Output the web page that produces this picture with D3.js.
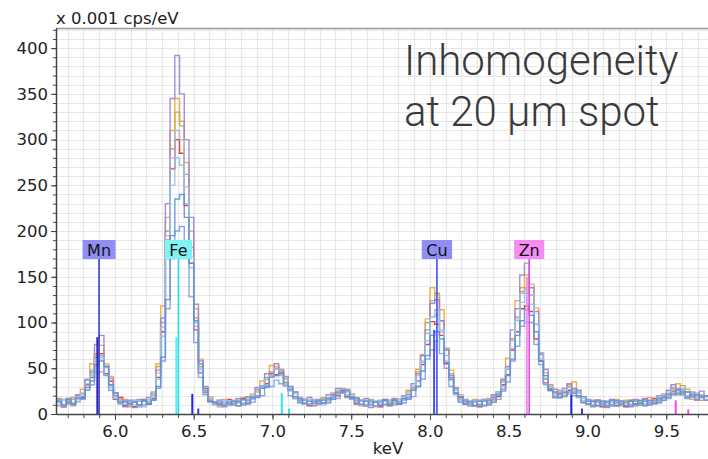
<!DOCTYPE html>
<html><head><meta charset="utf-8">
<script src="https://cdn.jsdelivr.net/npm/d3@7"></script>
<style>body{margin:0;background:#fff;} svg{display:block;}</style>
</head><body>
<svg id="chart" width="708" height="459"></svg>
<script>
// ---- data (energy channels: start keV and width keV) ----
const binStart = 5.63, binWidth = 0.03;
const seriesNames = ["red","green","orange","purple","grayblue","lightblue","cornflower","steelblue"];
const seriesColors = ["#e3262b","#93b168","#f2a531","#9d7fd8","#a7b6d5","#8fc3ea","#7b9fe2","#5d8fd9"];

const seriesPurple = [16,8,17,11,21,19,37,46,76,86, 52,39,17,16,8,15,7,16,10,18, 22,48,105,230,345,392,350,300,215,120,58,30,17,12, 15,8,14,10,17,12, 19,20,29,31,44,46,55,48,41,27, 24,13,11,18,9,16,12,21,20,28, 27,25,19,15,10,17,7,14,9,16, 11,17,12,20,21,33,44,64,92,121, 125,102,70,42,28,13,14,12,9,15, 16,10,21,24,38,52,92,115,152,165, 138,112,65,49,28,27,18,28,33,26, 26,13,16,8,15,11,7,16,9,14, 13,8,16,10,17,12,11,20,19,26, 32,26,27,17,24,15,25,19];
const seriesOrange = [9,16,11,18,13,27,31,55,66,75, 55,41,20,14,16,8,15,10,15,13, 20,55,118,215,310,345,320,275,200,115,60,27,19,11, 8,16,11,15,9,18, 13,22,24,36,38,53,52,49,35,28, 19,18,11,14,16,10,18,13,23,22, 24,27,16,18,9,15,12,8,14,16, 12,14,16,15,26,28,49,65,104,138, 130,114,71,48,26,21,13,9,16,10, 14,17,13,24,36,61,82,124,138,152, 142,116,67,45,30,23,26,20,32,35, 18,19,10,15,9,14,8,13,16,9, 15,11,9,14,10,18,14,16,22,21, 28,33,21,27,16,23,15,20];
const seriesRed = [15,8,12,16,19,18,32,40,62,66, 44,36,16,18,9,13,8,14,16,11, 17,40,90,190,268,300,285,228,165,92,45,24,14,13, 11,9,16,11,13,17, 12,18,20,30,33,44,43,44,31,27, 17,15,16,9,15,12,17,15,21,20, 26,19,18,11,15,9,14,13,8,15, 9,16,11,17,18,28,36,54,76,101, 98,86,55,38,22,18,11,13,14,8, 15,12,18,19,32,43,70,90,115,118, 112,82,58,34,27,18,23,20,26,23, 20,13,14,9,15,8,13,10,15,11, 8,15,11,12,16,10,17,13,18,20, 25,22,24,18,21,16,19,15];
const seriesGreen = [17,10,15,9,20,22,38,48,66,64, 52,31,23,13,14,12,14,8,15,14, 24,52,100,200,290,330,315,262,182,105,52,26,16,10, 15,10,13,12,15,10, 18,17,27,29,40,42,50,45,39,26, 24,14,16,11,14,14,16,16,22,23, 28,21,22,13,15,10,16,9,15,10, 15,12,16,15,25,30,46,64,100,124, 132,102,72,44,29,16,16,11,14,9, 16,13,20,22,36,50,82,106,134,138, 130,98,66,38,32,22,24,23,30,25, 24,14,15,10,14,12,13,10,12,12, 14,9,15,12,14,12,15,15,20,18, 29,23,31,19,22,20,20,19];
const seriesLightBlue = [10,15,10,16,14,23,26,42,53,60, 43,32,17,15,11,13,10,14,8,16, 18,38,85,170,250,280,272,230,160,96,48,22,15,12, 9,15,9,14,12,15, 13,20,20,30,31,42,42,43,32,28, 17,18,11,16,11,16,10,18,17,26, 23,24,16,17,10,15,9,14,11,14, 10,15,13,19,18,30,36,58,80,106, 108,92,58,39,21,19,12,13,10,15, 10,16,15,24,30,50,72,102,122,132, 120,98,60,42,25,24,19,26,24,26, 18,17,11,13,10,14,11,13,10,14, 11,14,9,14,11,14,12,18,17,24, 22,28,21,24,18,21,19,20];
const seriesSteelBlue = [13,10,16,11,17,17,29,36,54,58, 52,32,23,13,14,11,13,10,15,11, 15,30,62,125,195,235,240,215,165,102,55,28,14,13, 10,13,11,14,9,16, 11,18,18,28,30,40,42,46,34,30, 19,17,12,14,12,15,12,17,16,24, 24,26,17,17,11,14,10,13,10,15, 10,15,11,17,16,26,30,47,64,86, 90,82,56,40,23,19,11,14,9,14, 9,15,13,21,25,42,60,86,102,114, 108,90,58,42,26,24,18,24,22,28, 19,19,11,14,9,14,9,15,9,14, 9,14,10,15,9,15,12,17,15,22, 21,27,22,24,19,21,18,20];
const seriesGrayBlue = [15,9,15,13,19,21,33,44,64,62, 51,29,22,12,14,10,15,9,14,13, 21,45,95,195,280,310,300,248,172,100,50,25,17,11, 14,11,14,11,14,11, 16,16,26,28,38,41,49,42,38,25, 22,14,16,11,15,13,17,15,22,21, 27,21,21,13,15,10,14,9,14,11, 15,11,16,15,23,26,42,56,88,106, 114,90,64,37,26,15,16,10,14,11, 15,12,19,21,35,49,80,104,132,136, 130,98,67,39,30,20,24,22,29,24, 23,14,15,10,13,10,14,9,14,10, 13,10,14,10,15,11,15,13,21,20, 27,25,26,20,22,18,21,16];
const seriesCornflower = [14,9,14,11,17,16,26,32,46,46, 42,26,20,11,13,10,13,10,14,11, 16,28,58,115,170,200,205,180,128,78,40,21,13,12, 13,10,13,10,14,10, 15,13,20,20,29,30,37,33,31,20, 19,12,15,10,14,11,15,12,18,17, 23,18,19,12,14,9,14,9,13,10, 13,10,14,12,18,19,30,38,60,70, 80,66,50,30,23,13,15,9,13,10, 14,10,16,16,27,35,58,74,96,100, 100,76,54,32,26,18,21,19,24,20, 20,12,14,9,13,9,14,9,13,10, 13,9,14,10,14,10,15,12,18,17, 23,21,24,18,21,16,20,15];
const seriesValues = [seriesRed, seriesGreen, seriesOrange, seriesPurple, seriesGrayBlue, seriesLightBlue, seriesCornflower, seriesSteelBlue];

const xTickLabels = [6.0, 6.5, 7.0, 7.5, 8.0, 8.5, 9.0, 9.5];
const yTickLabels = [0, 50, 100, 150, 200, 250, 300, 350, 400];

// element markers
const elementNames = ["Mn", "Fe", "Cu", "Zn"];
const elementEnergies = [5.899, 6.403, 8.044, 8.630];
const elementBoxColors = ["#8e8ef6", "#80f4f4", "#8e8ef6", "#f48cf4"];
const elementLineColors = ["#3c3cd6", "#1fdfe6", "#4450ee", "#e04ce0"];
// secondary lines: energy, height (cps units), color
const minorLineEnergies = [5.888, 6.491, 6.529, 6.390, 7.059, 7.105, 8.026, 8.897, 8.965, 8.615, 9.560, 9.640];
const minorLineHeights  = [84, 22, 6, 84, 23, 6, 92, 21, 6, 150, 15, 5];
const minorLineColors   = ["#2a2ab8","#2222e0","#3333e8","#55eef2","#30e6ee","#30e6ee","#4a55f0","#2222e0","#3333e8","#f090f0","#ff40ff","#ff40ff"];

// ---- layout ----
const svg = d3.select("#chart");
const L = 57, R = 708, T = 28, B = 414;
const x = d3.scaleLinear().domain([5.632, 9.765]).range([L, R]);
const y = d3.scaleLinear().domain([0, 422]).range([B, T]);
const font = "'DejaVu Sans', Verdana, sans-serif";

svg.append("defs").append("clipPath").attr("id", "clip")
  .append("rect").attr("x", L).attr("y", T).attr("width", R - L).attr("height", B - T);

// grid
const gGrid = svg.append("g");
const vGrid = d3.range(57, 98).map(d => d / 10);
const hGrid = d3.range(10, 430, 10);
gGrid.selectAll("line.v").data(vGrid).join("line")
  .attr("x1", d => Math.round(x(d)) + 0.5).attr("x2", d => Math.round(x(d)) + 0.5)
  .attr("y1", T).attr("y2", B).attr("stroke", "#e7e7e7").attr("stroke-width", 1.2);
gGrid.selectAll("line.h").data(hGrid).join("line")
  .attr("y1", d => Math.round(y(d)) + 0.5).attr("y2", d => Math.round(y(d)) + 0.5)
  .attr("x1", L).attr("x2", R).attr("stroke", "#e7e7e7").attr("stroke-width", 1.2);

// title
const title = svg.append("text").attr("font-family", "Roboto, sans-serif").attr("font-weight", 300)
  .attr("font-size", 42).attr("fill", "#3a3a3a");
title.append("tspan").attr("x", 404).attr("y", 75).text("Inhomogeneity");
title.append("tspan").attr("x", 404).attr("y", 126).text("at 20 µm spot");

// spectra
const line = d3.line().x(d => x(d[0])).y(d => y(d[1])).curve(d3.curveStepAfter);
const gSpec = svg.append("g").attr("clip-path", "url(#clip)");
seriesValues.forEach((vals, k) => {
  const pts = vals.map((v, i) => [binStart + i * binWidth, v]);
  pts.push([binStart + vals.length * binWidth, vals[vals.length - 1]]);
  gSpec.append("path").attr("d", line(pts)).attr("fill", "none")
    .attr("stroke", seriesColors[k]).attr("stroke-width", 1.4).attr("stroke-opacity", 0.9);
});

// element markers
const gMark = svg.append("g");
minorLineEnergies.forEach((e, i) => {
  gMark.append("line").attr("x1", x(e)).attr("x2", x(e)).attr("y1", y(minorLineHeights[i])).attr("y2", B)
    .attr("stroke", minorLineColors[i]).attr("stroke-width", 2);
});
const boxTop = 240, boxH = 19;
elementNames.forEach((n, i) => {
  const cx = x(elementEnergies[i]);
  gMark.append("line").attr("x1", cx).attr("x2", cx).attr("y1", boxTop + boxH).attr("y2", B)
    .attr("stroke", elementLineColors[i]).attr("stroke-width", 1.6);
  const t = gMark.append("text").attr("x", cx).attr("y", boxTop + 16).attr("text-anchor", "middle")
    .attr("font-family", font).attr("font-size", 16).attr("fill", "#111").text(n);
  const w = t.node().getComputedTextLength() + 9;
  gMark.insert("rect", "text").attr("x", cx - w / 2).attr("y", boxTop).attr("width", w).attr("height", boxH)
    .attr("fill", elementBoxColors[i]);
});

// frame top
svg.append("line").attr("x1", L).attr("x2", R).attr("y1", T + 0.5).attr("y2", T + 0.5)
  .attr("stroke", "#999").attr("stroke-width", 1.5);

// axes
const gx = svg.append("g").attr("transform", `translate(0,${B})`);
gx.call(d3.axisBottom(x).tickValues(d3.range(57, 98).map(d => d / 10)).tickSize(4).tickFormat(""));
gx.call(g => g.select(".domain").remove());
const gx2 = svg.append("g").attr("transform", `translate(0,${B})`)
  .call(d3.axisBottom(x).tickValues(xTickLabels).tickSize(6).tickFormat(d3.format(".1f")));
gx2.select(".domain").remove();
gx2.selectAll("text").attr("y", 23).attr("dy", 0).attr("font-family", font).attr("font-size", 16.5).attr("fill", "#222");
svg.selectAll(".tick line").attr("stroke", "#444");
svg.append("line").attr("x1", L).attr("x2", R).attr("y1", B + 0.5).attr("y2", B + 0.5).attr("stroke", "#444").attr("stroke-width", 1.5);

const gy = svg.append("g").attr("transform", `translate(${L},0)`);
gy.call(d3.axisLeft(y).tickValues(d3.range(10, 421, 10)).tickSize(4).tickFormat(""));
gy.select(".domain").remove();
const gy2 = svg.append("g").attr("transform", `translate(${L},0)`)
  .call(d3.axisLeft(y).tickValues(yTickLabels).tickSize(6).tickFormat(d3.format("d")));
gy2.select(".domain").remove();
gy2.selectAll("text").attr("x", -9).attr("font-family", font).attr("font-size", 16.5).attr("fill", "#222");
svg.selectAll(".tick line").attr("stroke", "#444");
svg.append("line").attr("x1", L - 0.5).attr("x2", L - 0.5).attr("y1", T).attr("y2", B + 1).attr("stroke", "#444").attr("stroke-width", 1.5);

// axis titles
svg.append("text").attr("x", 56).attr("y", 24).attr("font-family", font).attr("font-size", 16.5)
  .attr("fill", "#222").text("x 0.001 cps/eV");
svg.append("text").attr("x", 388).attr("y", 454).attr("text-anchor", "middle").attr("font-family", font)
  .attr("font-size", 16.5).attr("fill", "#222").text("keV");
</script>
</body></html>
